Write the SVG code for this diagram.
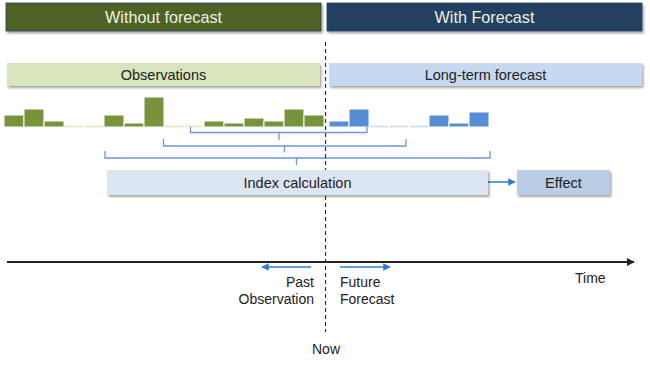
<svg xmlns="http://www.w3.org/2000/svg" width="650" height="366" viewBox="0 0 650 366">
<defs>
<filter id="sh" x="-5%" y="-20%" width="110%" height="160%">
<feDropShadow dx="1.5" dy="2" stdDeviation="1.2" flood-color="#000" flood-opacity="0.35"/>
</filter>
<marker id="ah" viewBox="0 0 10 10" refX="9" refY="5" markerWidth="5" markerHeight="5" orient="auto-start-reverse">
<path d="M0,0 L10,5 L0,10 z" fill="#2e7bcf"/>
</marker>
<marker id="ak" viewBox="0 0 10 10" refX="9" refY="5" markerWidth="4" markerHeight="4" orient="auto">
<path d="M0,0 L10,5 L0,10 z" fill="#222"/>
</marker>
<style>
text{font-family:"Liberation Sans",Arial,sans-serif;}
.hd{font-size:16.2px;fill:#eef0e6;text-anchor:middle;}
.lb{font-size:14.5px;fill:#222;text-anchor:middle;}
.sm{font-size:14px;fill:#222;}
.gb{fill:#77933c;stroke:#fff;stroke-width:1;}
.bb{fill:#558ed5;stroke:#fff;stroke-width:1;}
.ge{stroke:#d7e4bd;stroke-width:1.5;}
.be{stroke:#c6d9f1;stroke-width:1.5;}
.br{fill:none;stroke:#6b9ad6;stroke-width:1.3;}
.ar{stroke:#2e7bcf;stroke-width:1.5;fill:none;}
</style>
</defs>

<g id="header-without">
<rect x="6" y="3" width="315" height="28" fill="#4f6228" stroke="#2c3d5c" stroke-width="0.8" filter="url(#sh)"/>
<text class="hd" x="163.5" y="23">Without forecast</text>
</g>
<g id="header-with">
<rect x="327" y="3" width="315" height="28" fill="#243f60" stroke="#2c3d5c" stroke-width="0.8" filter="url(#sh)"/>
<text class="hd" x="484.5" y="23">With Forecast</text>
</g>

<g id="observations">
<rect x="7" y="63" width="313" height="23" fill="#d7e4bd" filter="url(#sh)"/>
<text class="lb" x="163.5" y="80">Observations</text>
</g>
<g id="long-term-forecast">
<rect x="329" y="63" width="313" height="23" fill="#c6d9f1" filter="url(#sh)"/>
<text class="lb" x="485.5" y="80">Long-term forecast</text>
</g>

<g id="observation-bars">
<rect class="gb" x="4" y="115" width="20" height="12"/>
<rect class="gb" x="24" y="109" width="20" height="18"/>
<rect class="gb" x="44" y="121" width="20" height="6"/>
<line class="ge" x1="65" y1="126.5" x2="83" y2="126.5"/>
<line class="ge" x1="85" y1="126.5" x2="103" y2="126.5"/>
<rect class="gb" x="104" y="115" width="20" height="12"/>
<rect class="gb" x="124" y="123" width="20" height="4"/>
<rect class="gb" x="144" y="97" width="20" height="30"/>
<line class="ge" x1="165" y1="126.5" x2="183" y2="126.5"/>
<line class="ge" x1="185" y1="126.5" x2="203" y2="126.5"/>
<rect class="gb" x="204" y="121" width="20" height="6"/>
<rect class="gb" x="224" y="123" width="20" height="4"/>
<rect class="gb" x="244" y="118" width="20" height="9"/>
<rect class="gb" x="264" y="121" width="20" height="6"/>
<rect class="gb" x="284" y="109" width="20" height="18"/>
<rect class="gb" x="304" y="115" width="20" height="12"/>
</g>

<g id="forecast-bars">
<rect class="bb" x="329" y="121" width="20" height="6"/>
<rect class="bb" x="349" y="109" width="20" height="18"/>
<line class="be" x1="370" y1="126.5" x2="388" y2="126.5"/>
<line class="be" x1="390" y1="126.5" x2="408" y2="126.5"/>
<line class="be" x1="410" y1="126.5" x2="428" y2="126.5"/>
<rect class="bb" x="429" y="115" width="20" height="12"/>
<rect class="bb" x="449" y="123" width="20" height="4"/>
<rect class="bb" x="469" y="112" width="20" height="15"/>
</g>

<g id="connectors">
<path class="br" d="M190.5,127 V132.5 H367 V127 M279,132.5 V140"/>
<path class="br" d="M163.5,139 V146 H406 V139 M284.5,146 V152.5"/>
<path class="br" d="M105,151 V158 H490 V151 M296.5,158 V165"/>
<line class="ar" x1="488" y1="182" x2="515" y2="182" marker-end="url(#ah)"/>
<line x1="325.5" y1="42" x2="325.5" y2="332" stroke="#333" stroke-width="1.2" stroke-dasharray="4,3"/>
<line x1="7" y1="262" x2="634" y2="262" stroke="#222" stroke-width="2" marker-end="url(#ak)"/>
<line class="ar" x1="311" y1="267" x2="262" y2="267" marker-end="url(#ah)"/>
<line class="ar" x1="340" y1="267" x2="390" y2="267" marker-end="url(#ah)"/>
</g>

<g id="index-calculation">
<rect x="107" y="170" width="381" height="25" fill="#dce6f2" filter="url(#sh)"/>
<text class="lb" x="297.5" y="187.5">Index calculation</text>
</g>
<g id="effect">
<rect x="517" y="170" width="93" height="25" fill="#b9cde5" filter="url(#sh)"/>
<text class="lb" x="563.5" y="187.5">Effect</text>
</g>

<g id="labels">
<text class="sm" x="314" y="287" text-anchor="end">Past</text>
<text class="sm" x="314" y="304" text-anchor="end">Observation</text>
<text class="sm" x="340" y="287">Future</text>
<text class="sm" x="340" y="304">Forecast</text>
<text class="sm" x="326" y="354" text-anchor="middle">Now</text>
<text class="sm" x="575" y="283">Time</text>
</g>
</svg>
